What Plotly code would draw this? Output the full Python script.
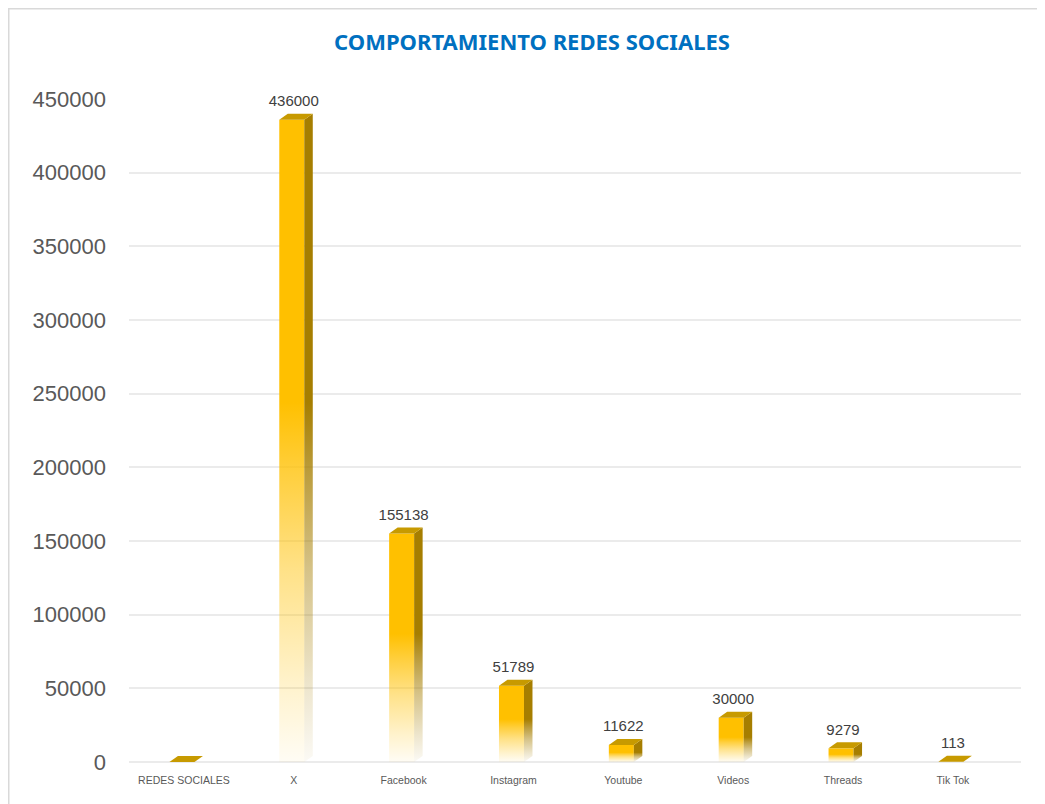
import plotly.graph_objects as go

categories = ["REDES SOCIALES", "X", "Facebook", "Instagram", "Youtube", "Videos", "Threads", "Tik Tok"]
values = [0, 436000, 155138, 51789, 11622, 30000, 9279, 113]
value_labels = ["", "436000", "155138", "51789", "11622", "30000", "9279", "113"]
y_ticks = [0, 50000, 100000, 150000, 200000, 250000, 300000, 350000, 400000, 450000]
title_text = "COMPORTAMIENTO REDES SOCIALES"

# figure geometry (pixels) - page has an 8px body margin
W, H = 1037, 796
ML, MR, MT, MB = 121, 24, 91, 42
plot_w = W - ML - MR
plot_h = H - MT - MB
x_range = [-0.5, 7.62]
y_range = [0, 450000]
px_per_x = plot_w / (x_range[1] - x_range[0])
px_per_y = plot_h / (y_range[1] - y_range[0])

# 3D bar styling (pixels converted to data units)
hw = 12.5 / px_per_x
dx = 8.5 / px_per_x
dy = 6 / px_per_y
label_pad = 4 / px_per_y
x_shift = -2 / px_per_x

front_col = (255, 192, 0)
side_col = (166, 126, 0)
top_col = "rgb(199,154,0)"


def fade_scale(c, floor=0.04):
    r, g, b = c
    return [
        [0.0, f"rgba({r},{g},{b},{floor})"],
        [0.12, f"rgba({r},{g},{b},0.2)"],
        [0.3, f"rgba({r},{g},{b},0.47)"],
        [0.45, f"rgba({r},{g},{b},0.76)"],
        [0.56, f"rgba({r},{g},{b},1)"],
        [1.0, f"rgba({r},{g},{b},1)"],
    ]


fig = go.Figure()

for i, v in enumerate(values):
    c = i + x_shift
    stop = max(v, 1)
    if v > 0:
        # front face
        fig.add_trace(go.Scatter(
            x=[c - hw, c + hw, c + hw, c - hw, c - hw],
            y=[0, 0, v, v, 0],
            mode="lines", line=dict(width=0), fill="toself",
            fillgradient=dict(type="vertical", colorscale=fade_scale(front_col), start=0, stop=stop),
            hoverinfo="skip", showlegend=False,
        ))
        # side face
        fig.add_trace(go.Scatter(
            x=[c + hw, c + hw + dx, c + hw + dx, c + hw, c + hw],
            y=[0, dy, v + dy, v, 0],
            mode="lines", line=dict(width=0), fill="toself",
            fillgradient=dict(type="vertical", colorscale=fade_scale(side_col), start=0, stop=stop),
            hoverinfo="skip", showlegend=False,
        ))
    # top face
    fig.add_trace(go.Scatter(
        x=[c - hw, c + hw, c + hw + dx, c - hw + dx, c - hw],
        y=[v, v, v + dy, v + dy, v],
        mode="lines", line=dict(width=0), fill="toself", fillcolor=top_col,
        hoverinfo="skip", showlegend=False,
    ))

# value labels
fig.add_trace(go.Scatter(
    x=list(range(len(categories))),
    y=[v + dy + label_pad for v in values],
    text=value_labels,
    mode="text", textposition="top center", cliponaxis=False,
    textfont=dict(family="Liberation Sans", size=15, color="#404040"),
    hoverinfo="skip", showlegend=False,
))

# chart border (at figure edge)
bx0 = (0.75 - ML) / plot_w
by1 = (H - MB - 0.75) / plot_h
fig.add_shape(type="rect", xref="paper", yref="paper",
              x0=bx0, x1=1.2, y0=-0.2, y1=by1,
              line=dict(color="#D9D9D9", width=1.5), fillcolor="rgba(0,0,0,0)", layer="below")

fig.update_layout(
    width=W, height=H,
    margin=dict(l=ML, r=MR, t=MT, b=MB),
    paper_bgcolor="white", plot_bgcolor="white",
    title=dict(text=f"<b>{title_text}</b>", x=524 / W, xanchor="center",
               y=1 - 34 / H, yanchor="middle",
               font=dict(family="Noto Sans", size=22, color="#0070C0")),
    xaxis=dict(range=x_range, tickmode="array", tickvals=list(range(len(categories))),
               ticktext=categories, showgrid=False, zeroline=False, showline=False,
               tickfont=dict(family="Liberation Sans", size=10.5, color="#595959"),
               ticks="", ticklabelstandoff=10, fixedrange=True),
    yaxis=dict(range=y_range, tickmode="array", tickvals=y_ticks,
               ticktext=[str(t) for t in y_ticks],
               showgrid=True, gridcolor="#EBEBEB", gridwidth=1.5,
               zeroline=True, zerolinecolor="#EBEBEB", zerolinewidth=1.5,
               showline=False, ticks="", ticklabelstandoff=22,
               tickfont=dict(family="Liberation Sans", size=22, color="#595959")),
)

fig.write_html("out.html")
